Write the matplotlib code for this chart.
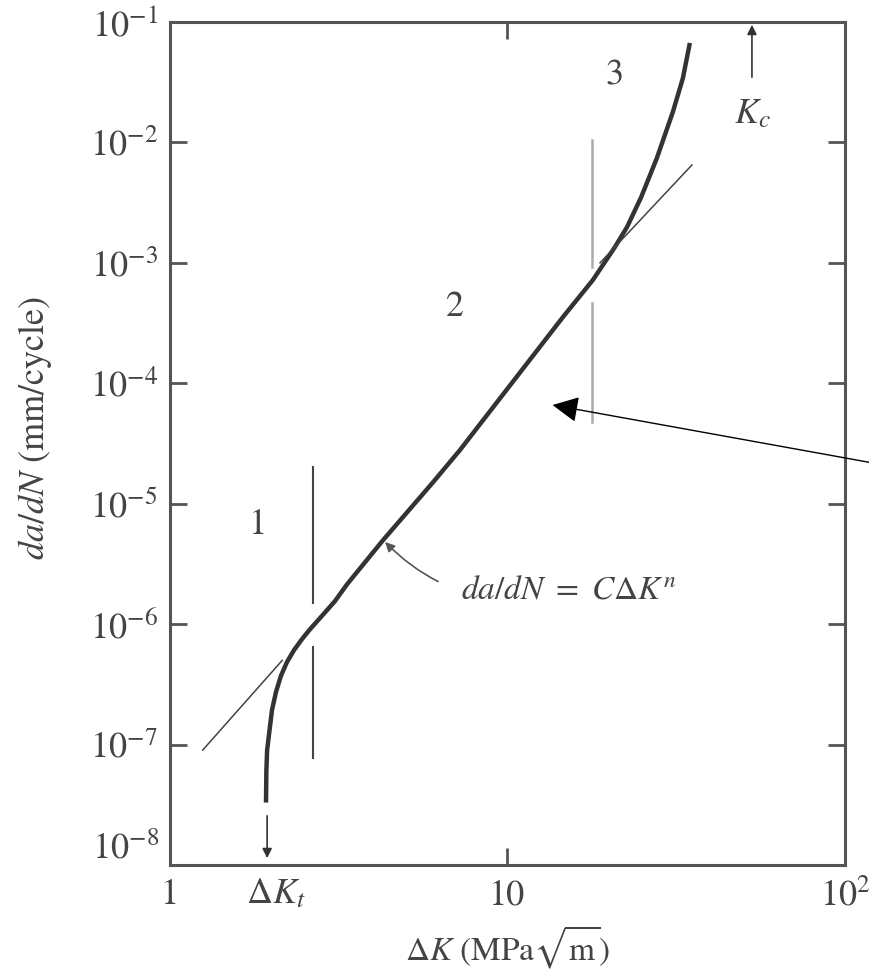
import matplotlib
matplotlib.use("Agg")
import matplotlib.pyplot as plt
from matplotlib.ticker import NullLocator
import numpy as np

plt.rcParams['font.family'] = ['STIXGeneral', 'DejaVu Serif']
plt.rcParams['mathtext.fontset'] = 'stix'

# crack growth curve
dk = [1.925, 1.93, 1.94, 2.005, 2.06, 2.13, 2.22, 2.33, 2.46, 2.60, 2.78, 3.08, 3.35,
      4.28, 6.02, 7.23, 14.6, 17.9, 20.8, 22.6, 24.9, 27.7, 30.9, 33.1, 34.7]
dadn = [3.3e-8, 6.1e-8, 9.0e-8, 1.93e-7, 2.72e-7, 3.70e-7, 4.83e-7, 6.08e-7, 7.50e-7,
        9.08e-7, 1.12e-6, 1.55e-6, 2.15e-6, 4.99e-6, 1.51e-5, 2.79e-5, 3.55e-4, 7.2e-4,
        1.35e-3, 1.98e-3, 3.52e-3, 7.4e-3, 1.79e-2, 3.43e-2, 6.7e-2]

# thin tangent lines
tan_low_x = [1.25, 2.15]
tan_low_y = [9.0e-8, 5.0e-7]
tan_up_x = [18.8, 35.2]
tan_up_y = [1.0e-3, 6.5e-3]

# region boundaries (x, [y segments])
bound1_x = 2.65
bound1_segs = [(2.0e-5, 1.5e-6), (6.4e-7, 7.7e-8)]
bound2_x = 17.8
bound2_segs = [(1.05e-2, 9.2e-4), (4.6e-4, 4.8e-5)]

dk_th = 1.94
k_c = 53.0

ytick_exp = [-1, -2, -3, -4, -5, -6, -7, -8]
xtick_vals = [1, 10, 100]
xtick_labels = ['1', '10', r'$10^2$']

fig = plt.figure(figsize=(8.7, 9.74), dpi=100)
ax = fig.add_axes([170/870, 1-865/974, 675/870, 843/974])
ax.set_xscale('log')
ax.set_yscale('log')
ax.set_xlim(1, 100)
ax.set_ylim(1e-8, 1e-1)

spine_col = '#555555'
txt_col = '#444444'
for s in ax.spines.values():
    s.set_color(spine_col)
    s.set_linewidth(2.2)

ax.set_xticks(xtick_vals)
ax.set_xticklabels(xtick_labels)
ax.xaxis.set_minor_locator(NullLocator())
ax.set_yticks([10.0**e for e in ytick_exp])
ax.set_yticklabels(['' if e == -8 else r'$10^{%d}$' % e for e in ytick_exp])
ax.yaxis.set_minor_locator(NullLocator())
ax.tick_params(which='major', direction='in', top=True, right=True, length=12, width=2,
               color=spine_col, labelsize=26, labelcolor=txt_col)
ax.tick_params(axis='x', pad=10)
ax.tick_params(axis='y', pad=9)
# bottom-left labels sit a little off their ticks
ax.text(0.93, 1.35e-8, r'$10^{-8}$', fontsize=26, color=txt_col, ha='right', va='center')
ax.text(dk_th + 0.12, 10**-8.24, r'$\Delta K_t$', fontsize=26, color=txt_col,
        ha='center', va='center')

# main curve
ax.plot(dk, dadn, color='#333333', lw=3.2, solid_capstyle='butt', solid_joinstyle='round')
ax.plot(tan_low_x, tan_low_y, color='#444444', lw=1.1)
ax.plot(tan_up_x, tan_up_y, color='#444444', lw=1.1)
for y0, y1 in bound1_segs:
    ax.plot([bound1_x, bound1_x], [y0, y1], color='#444444', lw=1.5)
for y0, y1 in bound2_segs:
    ax.plot([bound2_x, bound2_x], [y0, y1], color='#aaaaaa', lw=1.8)

# threshold arrow
ax.annotate('', xy=(dk_th, 1.08e-8), xytext=(dk_th, 2.7e-8),
            arrowprops=dict(arrowstyle='-|>', color='#333333', lw=1.2, mutation_scale=14))
# K_c arrow
ax.annotate('', xy=(k_c, 1.0e-1), xytext=(k_c, 3.3e-2),
            arrowprops=dict(arrowstyle='-|>', color='#333333', lw=1.2, mutation_scale=14))
ax.text(k_c, 1.7e-2, r'$K_c$', fontsize=26, color=txt_col, ha='center', va='center')

# region numbers
ax.text(1.82, 6.6e-6, '1', fontsize=26, color=txt_col, ha='center', va='center')
ax.text(6.99, 4.3e-4, '2', fontsize=26, color=txt_col, ha='center', va='center')
ax.text(20.8, 3.6e-2, '3', fontsize=26, color=txt_col, ha='center', va='center')

# equation with curved pointer
ax.annotate(r'$da/dN\ =\ C\Delta K^n$', xy=(4.28, 5.0e-6), xytext=(7.3, 1.9e-6),
            fontsize=24, color=txt_col, ha='left', va='center',
            arrowprops=dict(arrowstyle='-|>', color='#555555', lw=1.2, mutation_scale=14,
                            connectionstyle='arc3,rad=-0.3', shrinkA=16, shrinkB=2))

# big black pointer coming in from the right
ax.annotate('', xy=(13.6, 6.6e-5), xytext=(122.0, 2.17e-5),
            arrowprops=dict(arrowstyle='-|>', color='black', lw=1.0, mutation_scale=40,
                            shrinkA=0, shrinkB=0), annotation_clip=False)

ax.set_xlabel(r'$\Delta K\ (\mathrm{MPa}\sqrt{\mathrm{m}})$', fontsize=24, color=txt_col, labelpad=8)
fig.text(35/870, 1-428/974, r'$da/dN$ (mm/cycle)', rotation=90, fontsize=26,
         color=txt_col, ha='center', va='center')

fig.savefig('out.png', dpi=100)
